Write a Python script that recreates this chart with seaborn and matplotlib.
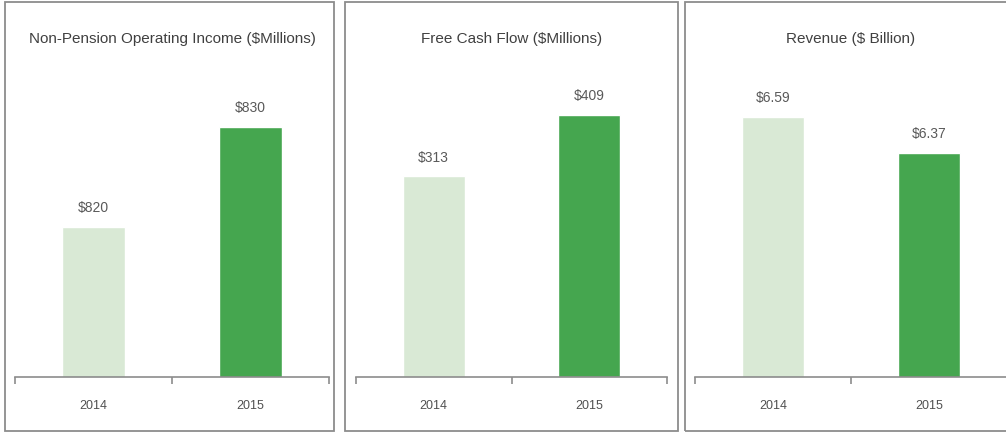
import matplotlib
matplotlib.use("Agg")
import matplotlib.pyplot as plt
from matplotlib import font_manager
import seaborn as sns
import pandas as pd
from matplotlib.patches import Rectangle

years = ["2014", "2015"]
titles = ["Non-Pension Operating Income ($Millions)", "Free Cash Flow ($Millions)", "Revenue ($ Billion)"]
income = [820, 830]
cash_flow = [313, 409]
revenue = [6.59, 6.37]
labels_income = ["$820", "$830"]
labels_cash = ["$313", "$409"]
labels_revenue = ["$6.59", "$6.37"]

sns.set_theme(style="white")
plt.rcParams['font.family'] = ['Liberation Sans', 'DejaVu Sans']

# narrow font if available, for titles
installed = {f.name for f in font_manager.fontManager.ttflist}
if "Liberation Sans Narrow" in installed:
    title_font, title_size, title_weight = "Liberation Sans Narrow", 13, "bold"
elif "DejaVu Sans Condensed" in installed:
    title_font, title_size, title_weight = "DejaVu Sans Condensed", 11.5, "bold"
else:
    title_font, title_size, title_weight = "Liberation Sans", 11, "normal"

colors = {"2014": "#d9e9d5", "2015": "#45a64f"}
W, H = 1006, 435
fig = plt.figure(figsize=(W / 100, H / 100), dpi=100)

# panel frames (pixel coords) and axes extents
frames = [(5, 334), (345, 678), (685, 1020)]
axes_x = [(15, 329), (356, 667), (695, 1007)]
ylims = [(805, 836.8), (0, 496), (5.0, 6.943)]
series = [(income, labels_income), (cash_flow, labels_cash), (revenue, labels_revenue)]

for (fx0, fx1) in frames:
    fig.patches.append(Rectangle((fx0 / W, 1 - 432 / H), (fx1 - fx0) / W, 429 / H,
                                 transform=fig.transFigure, fill=False,
                                 edgecolor="#8c8c8c", linewidth=1.3))

top, base = 60, 378
for i in range(3):
    x0, x1 = axes_x[i]
    ax = fig.add_axes([x0 / W, 1 - base / H, (x1 - x0) / W, (base - top) / H])
    vals, labs = series[i]
    df = pd.DataFrame({"Year": years, "Value": vals})
    sns.barplot(data=df, x="Year", y="Value", hue="Year", palette=colors,
                width=0.4, legend=False, ax=ax, saturation=1)
    ax.set_ylim(*ylims[i])
    ax.set_xlim(-0.5, 1.5)
    for j, v in enumerate(vals):
        ax.annotate(labs[j], (j, v), xytext=(0, 9), textcoords="offset points",
                    ha="center", va="bottom", fontsize=10, color="#595959")
    ax.set_title(titles[i], fontsize=title_size, color="#404040", pad=12,
                 family=title_font, fontweight=title_weight)
    ax.set_xlabel("")
    ax.set_ylabel("")
    ax.set_yticks([])
    for s in ["top", "left", "right"]:
        ax.spines[s].set_visible(False)
    ax.spines["bottom"].set_color("#8c8c8c")
    ax.spines["bottom"].set_linewidth(1.2)
    ax.set_xticks([-0.5, 0.5, 1.5], minor=True)
    ax.tick_params(axis="x", which="minor", bottom=True, length=5, color="#8c8c8c",
                   width=1.2, direction="out")
    ax.tick_params(axis="x", which="major", bottom=False, length=0, pad=16,
                   labelsize=9, labelcolor="#505050")
    ax.patch.set_alpha(0)

fig.savefig("out.png", dpi=100)
